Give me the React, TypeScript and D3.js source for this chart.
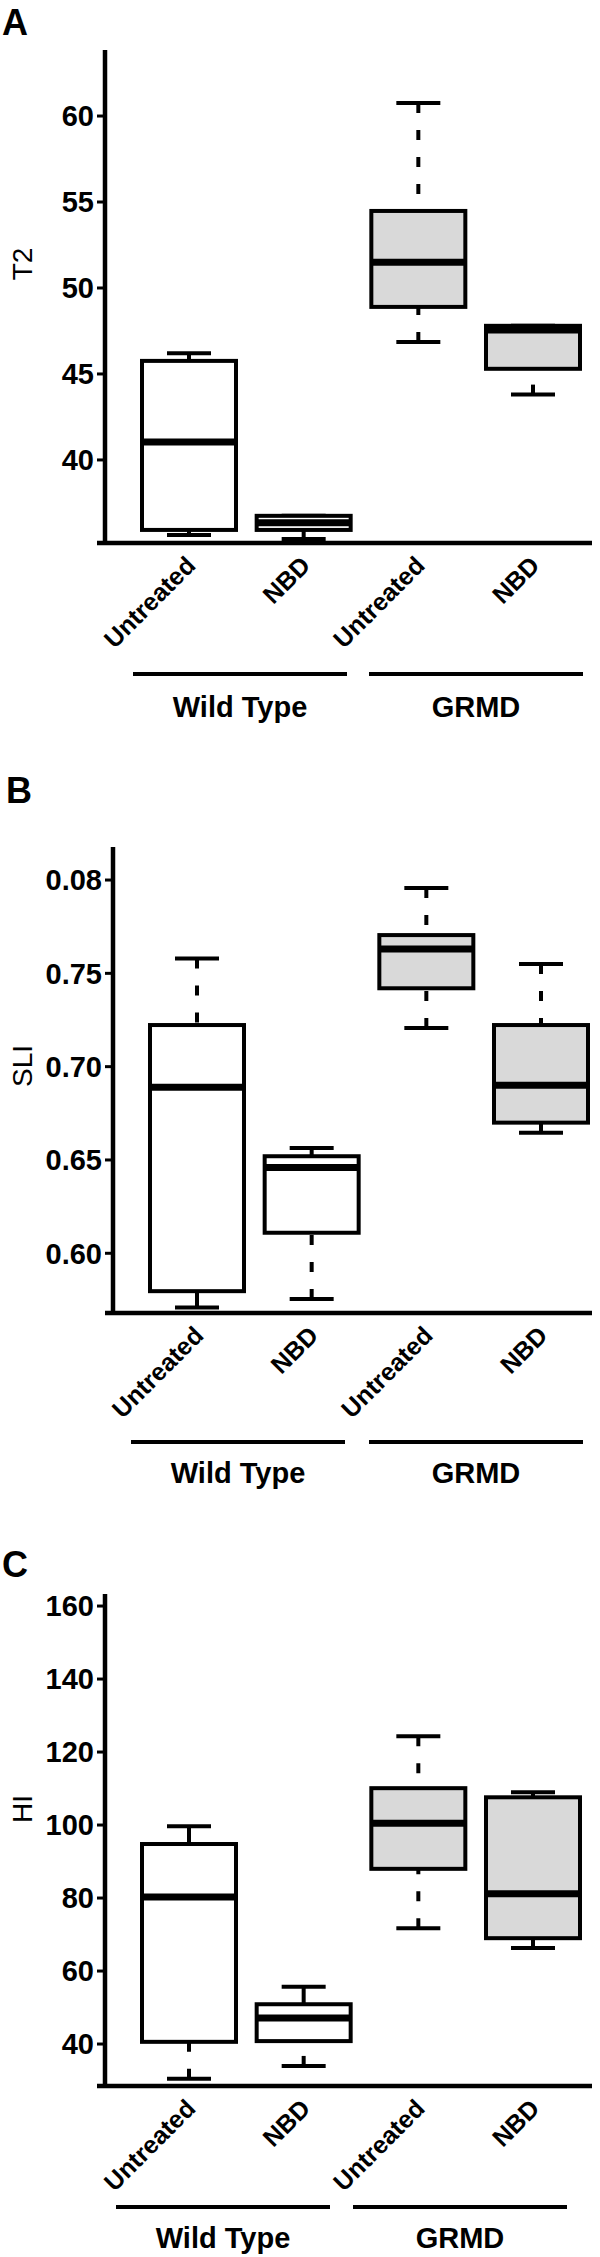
import React from 'react';
import * as d3 from 'd3';

// categories along the x axis, and which group each belongs to
const categoryLabels = ['Untreated', 'NBD', 'Untreated', 'NBD'];
const groupLabels = ['Wild Type', 'GRMD'];
const shaded = [false, false, true, true];

// box stats per category: [min, q1, median, q3, max]
const t2Stats = [
  [35.64, 35.93, 41.05, 45.76, 46.2],
  [35.4, 35.93, 36.35, 36.75, 36.75],
  [46.86, 48.9, 51.5, 54.48, 60.76],
  [43.8, 45.3, 47.55, 47.8, 47.8],
];
const sliStats = [
  [0.571, 0.5797, 0.689, 0.7223, 0.758],
  [0.5755, 0.611, 0.646, 0.652, 0.6564],
  [0.7207, 0.742, 0.763, 0.7705, 0.7957],
  [0.6646, 0.67, 0.69, 0.7223, 0.755],
];
const hiStats = [
  [30.5, 40.6, 80.3, 94.8, 99.7],
  [34.0, 40.8, 47.1, 50.9, 55.7],
  [71.7, 88.0, 100.5, 110.1, 124.3],
  [66.3, 69.0, 81.2, 107.6, 109.0],
];

const t2Ticks = [40, 45, 50, 55, 60];
const t2TickLabels = ['40', '45', '50', '55', '60'];
const sliTicks = [0.6, 0.65, 0.7, 0.75, 0.8];
const sliTickLabels = ['0.60', '0.65', '0.70', '0.75', '0.08'];
const hiTicks = [40, 60, 80, 100, 120, 140, 160];
const hiTickLabels = ['40', '60', '80', '100', '120', '140', '160'];

const panels = [
  {
    letter: 'A', letterX: 2, letterY: 35, title: 'T2', titleY: 264,
    stats: t2Stats, ticks: t2Ticks, tickLabels: t2TickLabels, domain: [35.17, 63.84],
    top: 50, bottom: 543, axisX: 105, groupCenters: [240, 476], lineDy: 131, labelDy: 174,
  },
  {
    letter: 'B', letterX: 6, letterY: 803, title: 'SLI', titleY: 1066,
    stats: sliStats, ticks: sliTicks, tickLabels: sliTickLabels, domain: [0.568, 0.8177],
    top: 847, bottom: 1313, axisX: 113, groupCenters: [238, 476], lineDy: 129, labelDy: 170,
  },
  {
    letter: 'C', letterX: 2, letterY: 1577, title: 'HI', titleY: 1809,
    stats: hiStats, ticks: hiTicks, tickLabels: hiTickLabels, domain: [28.5, 163.3],
    top: 1594, bottom: 2086, axisX: 105, groupCenters: [223, 460], lineDy: 121, labelDy: 162,
  },
];

const font = '"Liberation Sans", Arial, sans-serif';
const boxHalf = 47;
const capHalf = 22;
const axisRight = 592;

function Panel({ p }) {
  const y = d3.scaleLinear().domain(p.domain).range([p.bottom, p.top]);
  const x = d3
    .scalePoint()
    .domain(d3.range(categoryLabels.length))
    .range([p.axisX + 84, p.axisX + 428]);

  // whiskers run from the cap back to the box; long ones come out dashed
  const whisker = (cx, from, to, key) => {
    const len = Math.abs(y(from) - y(to));
    if (len < 1) return null;
    return (
      <line
        key={key}
        x1={cx}
        x2={cx}
        y1={y(to)}
        y2={y(from)}
        stroke="#000"
        strokeWidth={4}
        strokeDasharray={len > 24 ? '10 17' : null}
      />
    );
  };

  return (
    <g>
      <text x={p.letterX} y={p.letterY} fontSize={36} fontWeight="bold" fontFamily={font}>
        {p.letter}
      </text>
      <text
        transform={`translate(32,${p.titleY}) rotate(-90)`}
        textAnchor="middle"
        fontSize={28}
        fontFamily={font}
      >
        {p.title}
      </text>

      {p.ticks.map((t, i) => (
        <g key={i}>
          <line x1={p.axisX - 8} x2={p.axisX} y1={y(t)} y2={y(t)} stroke="#000" strokeWidth={3} />
          <text
            x={p.axisX - 11}
            y={y(t)}
            dy="0.36em"
            textAnchor="end"
            fontSize={29}
            fontWeight="bold"
            fontFamily={font}
          >
            {p.tickLabels[i]}
          </text>
        </g>
      ))}

      {p.stats.map((s, i) => {
        const cx = x(i);
        const [mn, q1, md, q3, mx] = s;
        return (
          <g key={i}>
            {whisker(cx, q3, mx, 'up')}
            {whisker(cx, q1, mn, 'down')}
            <line x1={cx - capHalf} x2={cx + capHalf} y1={y(mx)} y2={y(mx)} stroke="#000" strokeWidth={4} />
            <line x1={cx - capHalf} x2={cx + capHalf} y1={y(mn)} y2={y(mn)} stroke="#000" strokeWidth={4} />
            <rect
              x={cx - boxHalf}
              y={y(q3)}
              width={boxHalf * 2}
              height={y(q1) - y(q3)}
              fill={shaded[i] ? '#d9d9d9' : '#fff'}
              stroke="#000"
              strokeWidth={4}
            />
            <line x1={cx - boxHalf} x2={cx + boxHalf} y1={y(md)} y2={y(md)} stroke="#000" strokeWidth={7} />
          </g>
        );
      })}

      <line x1={p.axisX} x2={p.axisX} y1={p.top} y2={p.bottom} stroke="#000" strokeWidth={4.5} />
      <line x1={p.axisX - 8} x2={axisRight} y1={p.bottom} y2={p.bottom} stroke="#000" strokeWidth={4.5} />

      {categoryLabels.map((c, i) => (
        <text
          key={i}
          transform={`translate(${x(i) + 8},${p.bottom + 24}) rotate(-45)`}
          textAnchor="end"
          fontSize={25}
          fontWeight="bold"
          fontFamily={font}
        >
          {c}
        </text>
      ))}

      {groupLabels.map((g, i) => (
        <g key={g}>
          <line
            x1={p.groupCenters[i] - 107}
            x2={p.groupCenters[i] + 107}
            y1={p.bottom + p.lineDy}
            y2={p.bottom + p.lineDy}
            stroke="#000"
            strokeWidth={4}
          />
          <text
            x={p.groupCenters[i]}
            y={p.bottom + p.labelDy}
            textAnchor="middle"
            fontSize={29}
            fontWeight="bold"
            fontFamily={font}
          >
            {g}
          </text>
        </g>
      ))}
    </g>
  );
}

export default function App() {
  return (
    <svg
      width={600}
      height={2257}
      style={{ position: 'absolute', left: 0, top: 0, background: '#fff' }}
    >
      <rect width={600} height={2257} fill="#fff" />
      {panels.map((p) => (
        <Panel key={p.letter} p={p} />
      ))}
    </svg>
  );
}
